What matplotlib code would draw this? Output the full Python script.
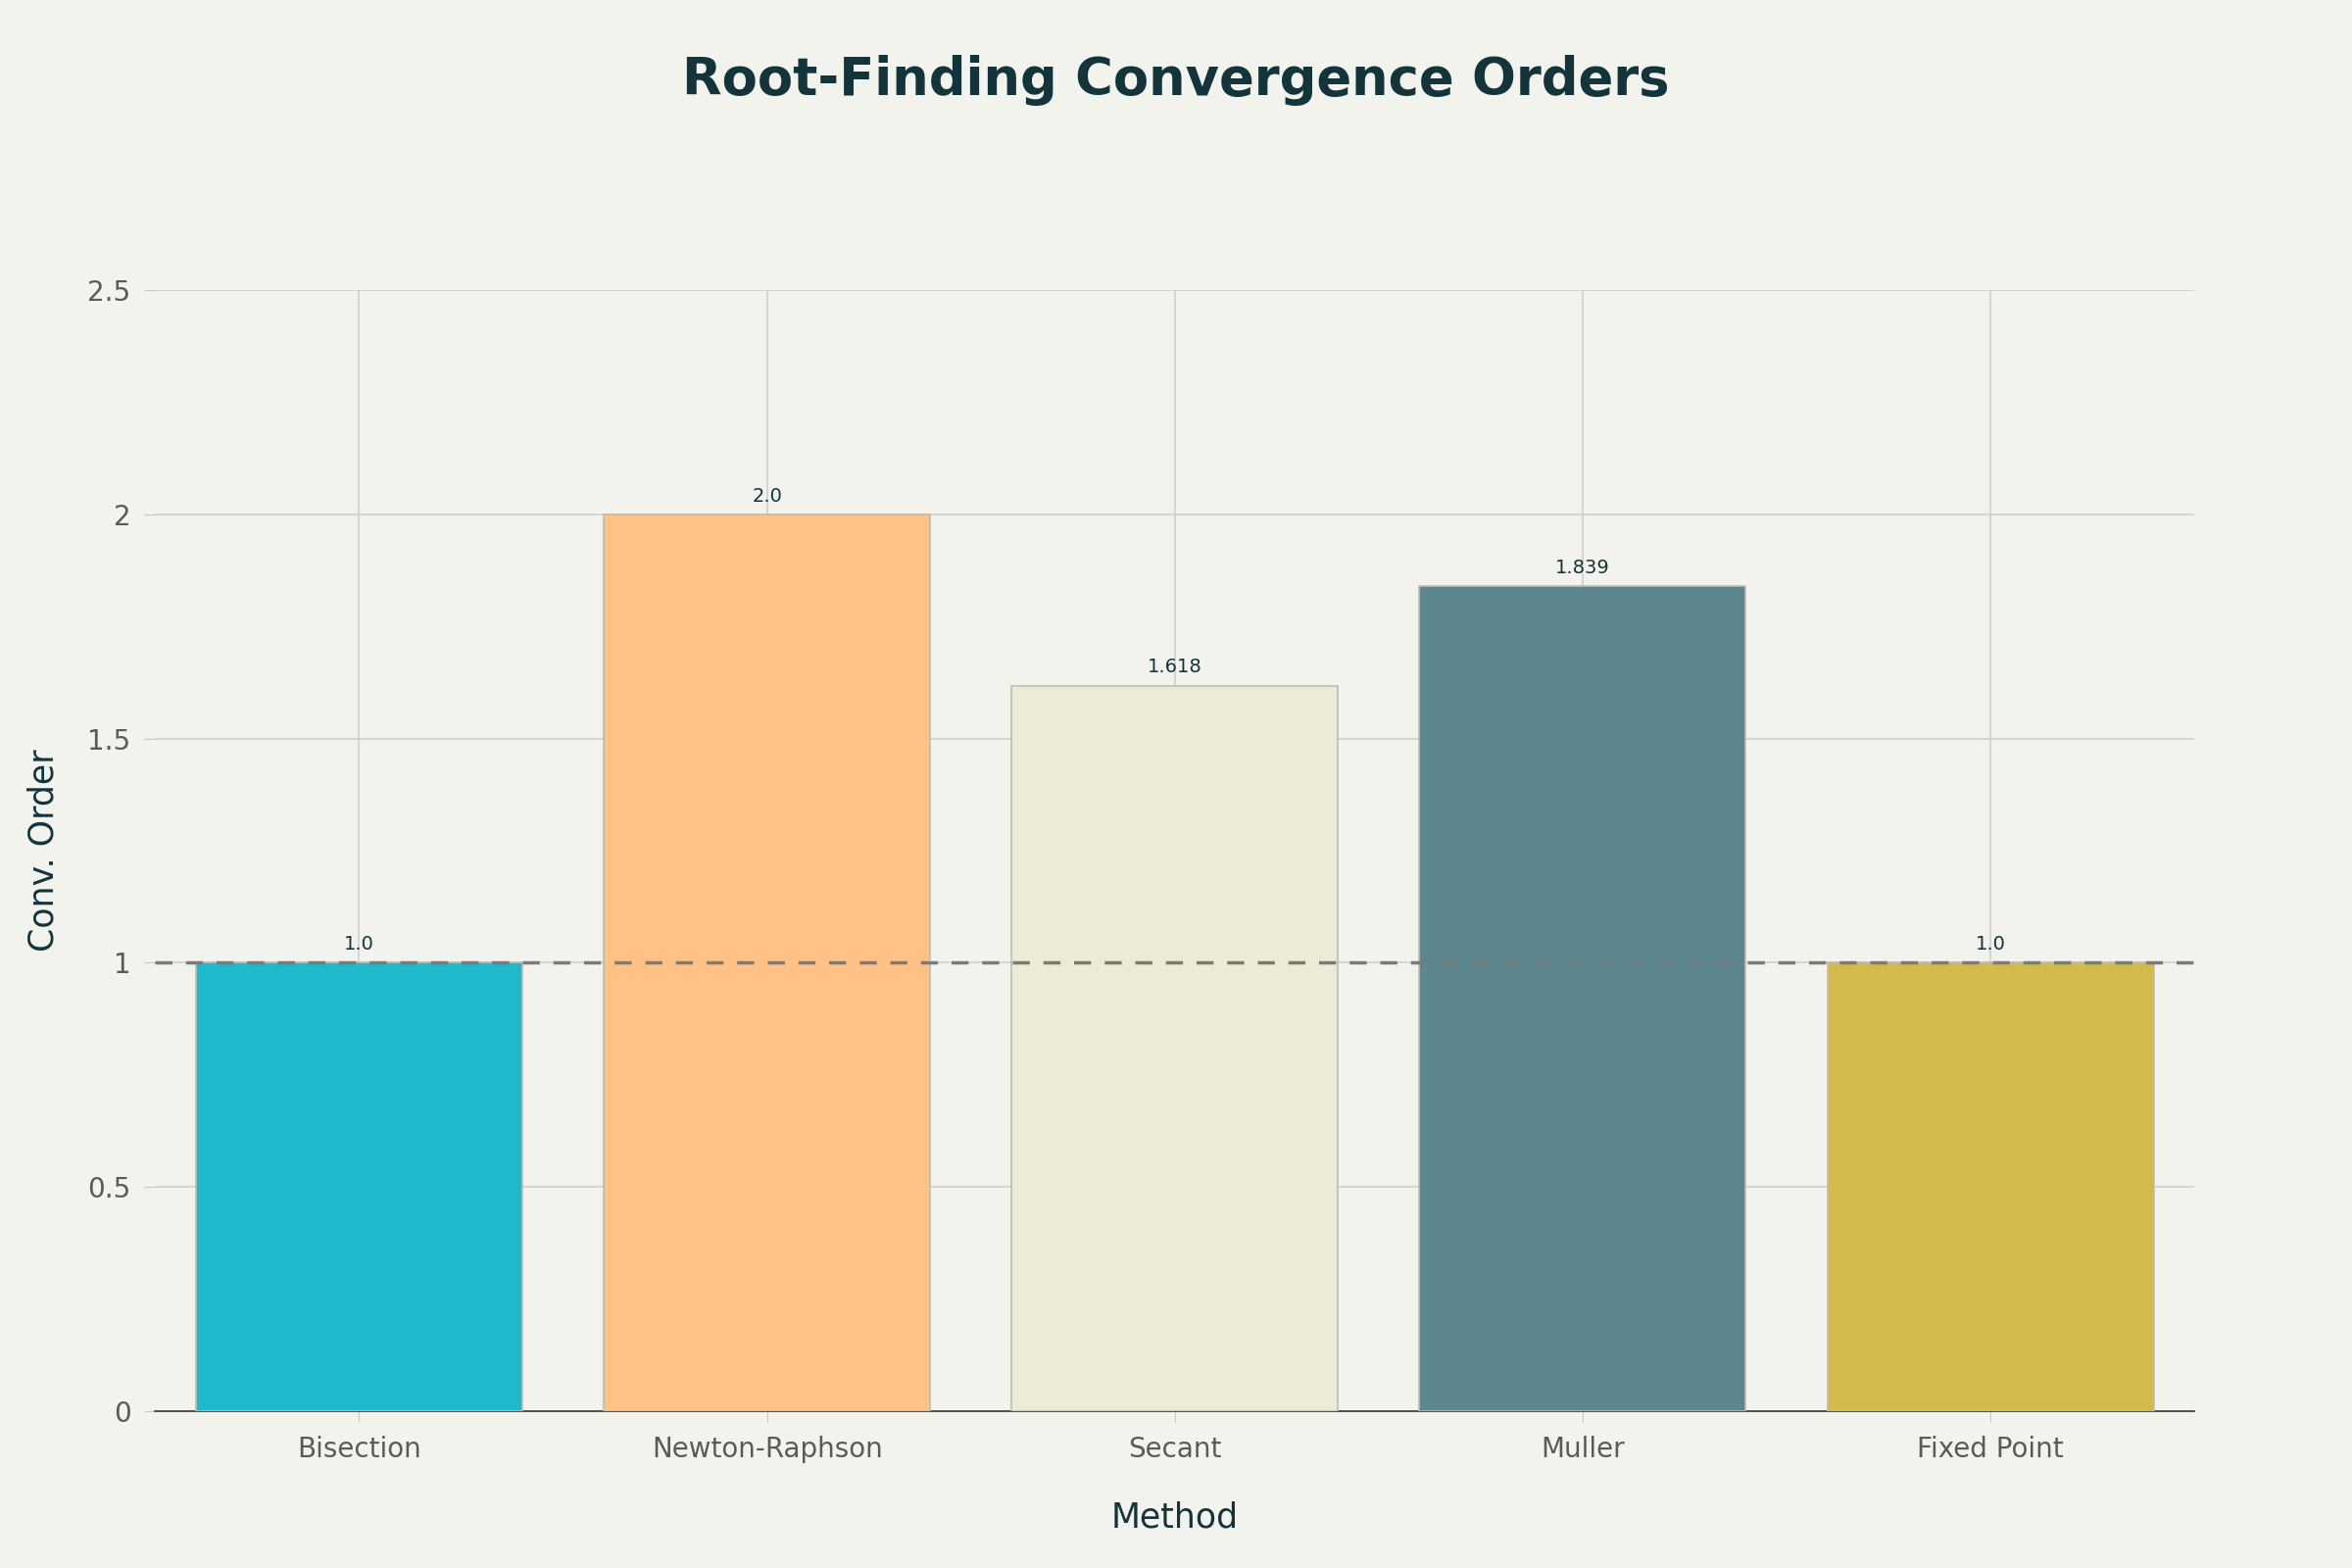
import matplotlib.pyplot as plt

methods = ["Bisection", "Newton-Raphson", "Secant", "Muller", "Fixed Point"]
orders = [1.0, 2.0, 1.618, 1.839, 1.0]
labels = ["1.0", "2.0", "1.618", "1.839", "1.0"]
colors = ["#1FB8CD", "#FFC185", "#ECEBD5", "#5D878F", "#D2BA4C"]

bg = "#F3F3EE"
fig = plt.figure(figsize=(24, 16), dpi=100, facecolor=bg)
ax = fig.add_axes([0.066, 0.100, 0.867, 0.715], facecolor=bg)

x = range(len(methods))
ax.bar(x, orders, width=0.8, color=colors, edgecolor="#BDBDB5", linewidth=1.2, zorder=3)
for i, (v, t) in enumerate(zip(orders, labels)):
    ax.text(i, v + 0.02, t, ha="center", va="bottom", fontsize=14, color="#13343B", zorder=5)

ax.axhline(1.0, color="#7A7A7A", linestyle=(0, (5, 4)), linewidth=2.5, zorder=4)

ax.set_xlim(-0.5, 4.5)
ax.set_ylim(0, 2.5)
ax.set_xticks(list(x))
ax.set_xticklabels(methods)
ax.set_yticks([0, 0.5, 1, 1.5, 2, 2.5])
ax.set_yticklabels(["0", "0.5", "1", "1.5", "2", "2.5"])
ax.tick_params(axis="both", labelsize=20, labelcolor="#5A5A5A", length=8, color="#C8C8C8", pad=10)
ax.grid(True, color="#D0D0CC", linewidth=1.2, zorder=0)
for s in ["top", "right", "left"]:
    ax.spines[s].set_visible(False)
ax.spines["bottom"].set_color("#333333")
ax.spines["bottom"].set_linewidth(1.2)

ax.set_xlabel("Method", fontsize=25, color="#13343B", labelpad=28)
ax.set_ylabel("Conv. Order", fontsize=25, color="#13343B", labelpad=20)
fig.suptitle("Root-Finding Convergence Orders", fontsize=38, fontweight="bold", color="#13343B", y=0.965)

fig.savefig("out.png", facecolor=bg)
